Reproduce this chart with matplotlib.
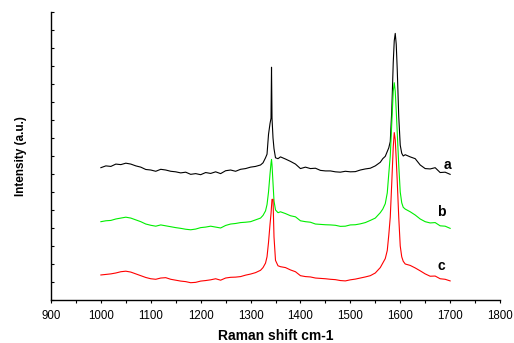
import matplotlib
matplotlib.use("Agg")
import matplotlib.pyplot as plt
from matplotlib.ticker import MultipleLocator, NullFormatter

plt.rcParams['font.family'] = ['Liberation Sans', 'DejaVu Sans']

# Raman shift (cm-1), shared by the three spectra
shift = [1000, 1010, 1020, 1030, 1040, 1050, 1060, 1070, 1080, 1090,
         1100, 1110, 1120, 1130, 1140, 1150, 1160, 1170, 1180, 1190,
         1200, 1210, 1220, 1230, 1240, 1250, 1260, 1270, 1280, 1290,
         1300, 1310, 1320, 1325, 1330, 1333, 1336, 1339, 1341, 1342,
         1343, 1345, 1347, 1350, 1355, 1360, 1370, 1380, 1390, 1400,
         1410, 1420, 1430, 1440, 1450, 1460, 1470, 1480, 1490, 1500,
         1510, 1520, 1530, 1540, 1550, 1560, 1565, 1570, 1574, 1577,
         1580, 1583, 1586, 1588, 1590, 1592, 1594, 1597, 1600, 1603,
         1606, 1610, 1620, 1630, 1640, 1650, 1660, 1670, 1680, 1690,
         1700]

spec_a = [7.35, 7.45, 7.42, 7.55, 7.52, 7.60, 7.55, 7.45, 7.38, 7.25,
          7.22, 7.15, 7.26, 7.22, 7.15, 7.12, 7.06, 7.10, 6.98, 7.02,
          6.96, 7.08, 7.03, 7.12, 7.02, 7.18, 7.22, 7.15, 7.26, 7.30,
          7.38, 7.42, 7.50, 7.62, 7.90, 8.10, 9.20, 9.80, 10.10, 12.93,
          10.10, 9.00, 8.40, 7.90, 7.85, 7.95, 7.83, 7.70, 7.55, 7.30,
          7.38, 7.30, 7.32, 7.20, 7.17, 7.17, 7.12, 7.10, 7.15, 7.12,
          7.13, 7.22, 7.28, 7.32, 7.45, 7.65, 7.85, 7.98, 8.25, 8.45,
          8.80, 10.50, 13.20, 14.40, 14.81, 14.20, 12.80, 10.20, 8.60, 8.15,
          8.00, 8.07, 7.95, 7.85, 7.50, 7.30, 7.28, 7.35, 7.08, 7.10,
          6.98]

spec_b = [4.35, 4.40, 4.42, 4.50, 4.55, 4.60, 4.55, 4.45, 4.35, 4.22,
          4.15, 4.10, 4.17, 4.12, 4.07, 4.02, 3.98, 3.93, 3.90, 3.94,
          4.02, 4.05, 4.10, 4.05, 4.00, 4.14, 4.22, 4.25, 4.30, 4.32,
          4.35, 4.45, 4.55, 4.70, 4.95, 5.30, 6.00, 7.00, 7.60, 7.81,
          7.50, 6.50, 5.50, 5.00, 4.85, 4.90, 4.80, 4.68, 4.62, 4.40,
          4.35, 4.32, 4.22, 4.20, 4.18, 4.17, 4.15, 4.09, 4.10, 4.17,
          4.18, 4.23, 4.30, 4.42, 4.55, 4.85, 5.05, 5.35, 5.95, 7.00,
          8.00, 9.80, 11.60, 12.07, 11.60, 10.50, 9.30, 7.50, 6.00, 5.40,
          5.15, 5.05, 4.90, 4.72, 4.50, 4.35, 4.28, 4.30, 4.12, 4.10,
          3.98]

spec_c = [1.39, 1.42, 1.45, 1.50, 1.57, 1.60, 1.55, 1.45, 1.35, 1.25,
          1.18, 1.15, 1.22, 1.24, 1.15, 1.10, 1.05, 1.02, 0.96, 0.98,
          1.05, 1.08, 1.12, 1.18, 1.10, 1.22, 1.26, 1.27, 1.30, 1.38,
          1.44, 1.52, 1.65, 1.80, 2.05, 2.40, 3.20, 4.20, 4.80, 5.20,
          5.59, 5.59, 3.50, 2.20, 1.90, 1.85, 1.80, 1.67, 1.57, 1.35,
          1.30, 1.28, 1.22, 1.20, 1.18, 1.15, 1.13, 1.08, 1.06, 1.12,
          1.16, 1.22, 1.28, 1.35, 1.50, 1.80, 2.05, 2.30, 2.75, 3.60,
          4.60, 6.50, 8.50, 9.30, 8.90, 7.80, 6.60, 4.60, 3.00, 2.40,
          2.15, 2.00, 1.92, 1.78, 1.62, 1.45, 1.32, 1.33, 1.18, 1.15,
          1.06]

labels = ['a', 'b', 'c']
colors = ['black', '#00ee00', '#ff0000']
label_x = [1695, 1682, 1682]
label_y = [7.5, 4.9, 1.9]

fig = plt.figure(figsize=(5.14, 3.43), dpi=100)
ax = fig.add_axes([0.0992, 0.1254, 0.8736, 0.8397])

for spec, col in zip([spec_a, spec_b, spec_c], colors):
    ax.plot(shift, spec, color=col, lw=0.8)

for lab, lx, ly in zip(labels, label_x, label_y):
    ax.text(lx, ly, lab, fontsize=10, fontweight='bold', ha='center', va='center')

ax.set_xlim(900, 1800)
ax.set_ylim(0, 16)
ax.xaxis.set_major_locator(MultipleLocator(100))
ax.xaxis.set_minor_locator(MultipleLocator(50))
ax.yaxis.set_major_locator(MultipleLocator(1))
ax.yaxis.set_major_formatter(NullFormatter())

ax.spines['top'].set_visible(False)
ax.spines['right'].set_visible(False)
for s in ['left', 'bottom']:
    ax.spines[s].set_linewidth(1.0)

ax.tick_params(axis='x', which='both', direction='out', length=2.5, width=0.8,
               labelsize=8.3, pad=5)
ax.tick_params(axis='y', which='both', direction='in', length=2, width=0.8)

ax.set_xlabel('Raman shift cm-1', fontsize=10, fontweight='bold', labelpad=5)
ax.set_ylabel('Intensity (a.u.)', fontsize=8.5, fontweight='bold', labelpad=14)

fig.savefig('out.png', dpi=100)
